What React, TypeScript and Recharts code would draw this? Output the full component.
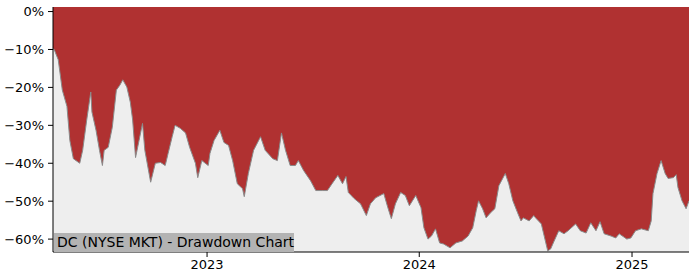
import React from 'react';
import { AreaChart, Area, XAxis, YAxis, CartesianGrid } from 'recharts';

const dates: string[] = [
  '2022-04-11','2022-04-13','2022-04-20','2022-04-27','2022-05-05','2022-05-10','2022-05-16','2022-05-27','2022-06-01','2022-06-08',
  '2022-06-15','2022-06-17','2022-06-24','2022-06-30','2022-07-05','2022-07-08','2022-07-15','2022-07-22','2022-07-29','2022-08-04',
  '2022-08-09','2022-08-16','2022-08-22','2022-08-26','2022-08-31','2022-09-06','2022-09-12','2022-09-16','2022-09-26','2022-10-04',
  '2022-10-13','2022-10-21','2022-10-26','2022-11-02','2022-11-07','2022-11-16','2022-11-25','2022-12-02','2022-12-12','2022-12-16',
  '2022-12-23','2023-01-03','2023-01-06','2023-01-13','2023-01-23','2023-01-30','2023-02-07','2023-02-14','2023-02-22','2023-03-03',
  '2023-03-06','2023-03-13','2023-03-22','2023-04-03','2023-04-11','2023-04-24','2023-05-02','2023-05-09','2023-05-16','2023-05-24',
  '2023-06-02','2023-06-07','2023-06-16','2023-06-28','2023-07-07','2023-07-19','2023-07-27','2023-08-04','2023-08-14','2023-08-22',
  '2023-08-28','2023-09-01','2023-09-11','2023-09-22','2023-10-02','2023-10-09','2023-10-18','2023-11-01','2023-11-08','2023-11-14',
  '2023-11-21','2023-11-30','2023-12-08','2023-12-15','2023-12-26','2024-01-04','2024-01-09','2024-01-16','2024-01-22','2024-01-29',
  '2024-02-05','2024-02-12','2024-02-23','2024-03-04','2024-03-15','2024-03-25','2024-04-02','2024-04-08','2024-04-12','2024-04-19',
  '2024-04-25','2024-05-03','2024-05-10','2024-05-17','2024-05-28','2024-06-03','2024-06-10','2024-06-18','2024-06-24','2024-06-28',
  '2024-07-08','2024-07-16','2024-07-19','2024-07-29','2024-08-02','2024-08-09','2024-08-14','2024-08-20','2024-08-28','2024-09-06',
  '2024-09-13','2024-09-26','2024-10-04','2024-10-14','2024-10-22','2024-10-31','2024-11-07','2024-11-14','2024-11-26','2024-12-04',
  '2024-12-10','2024-12-23','2024-12-30','2025-01-07','2025-01-17','2025-01-29','2025-02-03','2025-02-06','2025-02-13','2025-02-20',
  '2025-02-27','2025-03-04','2025-03-13','2025-03-18','2025-03-21','2025-03-28','2025-04-04','2025-04-09'
];

const drawdown: number[] = [
  -9.8, -10, -12.7, -20.7, -25, -34, -38.8, -40, -36.6, -28.6,
  -21.2, -26.5, -31.3, -36.6, -40.6, -36.6, -35.8, -30.5, -20.7, -19.4,
  -18, -19.9, -23.9, -28.6, -38.5, -34, -29.5, -36.6, -45, -40,
  -39.8, -40.6, -37.4, -33, -30, -30.8, -32, -35.8, -40, -43.8,
  -39.3, -40.6, -37.4, -34, -31.3, -34.5, -35.3, -39.3, -45.4, -46.7,
  -48.8, -42.7, -36.6, -33, -36.6, -38.8, -39.3, -32, -36.6, -40.6,
  -40.6, -39.3, -41.9, -44.6, -47.2, -47.2, -47.2, -45.4, -43.2, -45.4,
  -43.5, -47.7, -49.3, -50.7, -53.8, -50.7, -49.1, -48, -51.7, -54.6,
  -50.7, -47.7, -48.5, -51.2, -48.5, -51.7, -57, -60, -59.2, -57.3,
  -61, -61.3, -62.3, -61, -60.5, -59.2, -57, -52.5, -49.9, -52,
  -54.4, -53, -52, -45.9, -42.7, -45.4, -49.9, -53, -55.2, -54.4,
  -55.2, -53.8, -54.4, -56, -58.6, -63.1, -62.6, -60.5, -57.8, -58.6,
  -57.8, -56, -57.8, -58.4, -55.7, -57.8, -55.4, -58.6, -59.2, -59.7,
  -58.6, -60, -59.7, -57.8, -57.3, -57.8, -55.2, -48, -42.7, -39.3,
  -42.7, -44, -43.8, -43, -46.4, -49.9, -52, -49.9
];

const yearTicks: string[] = ['2023-01-01', '2024-01-01', '2025-01-01'];
const yTicks: number[] = [0, -10, -20, -30, -40, -50, -60];
const title = 'DC (NYSE MKT) - Drawdown Chart';

const ts = (d: string) => Date.parse(d + 'T00:00:00Z');
const data = dates.map((d, i) => ({ t: ts(d), dd: drawdown[i] }));
const xDomain: [number, number] = [ts('2022-04-11'), ts('2025-04-09')];
const yDomain: [number, number] = [-63.4, 1.2];

const fmtY = (v: number) => (v === 0 ? '0%' : '\u2212' + Math.abs(v) + '%');
const fmtX = (v: number) => String(new Date(v).getUTCFullYear());

const font = '"DejaVu Sans", sans-serif';
const tickStyle = { fontSize: 13, fill: '#000', fontFamily: font };

export default function App() {
  return (
    <div style={{ position: 'absolute', left: 0, top: 0, width: 700, height: 280, background: '#fff' }}>
      <AreaChart width={700} height={280} data={data} margin={{ top: 7, right: 11, bottom: 0, left: 0 }}>
        <CartesianGrid horizontal={false} vertical={false} fill="#b03131" fillOpacity={1} />
        <XAxis
          dataKey="t"
          type="number"
          scale="time"
          domain={xDomain}
          allowDataOverflow
          ticks={yearTicks.map(ts)}
          tickFormatter={fmtX}
          height={28}
          tick={tickStyle}
          tickSize={5}
          tickMargin={3}
          axisLine={{ stroke: '#000', strokeWidth: 1 }}
          tickLine={{ stroke: '#000' }}
        />
        <XAxis
          xAxisId="top"
          dataKey="t"
          type="number"
          orientation="top"
          domain={xDomain}
          allowDataOverflow
          height={0}
          tick={false}
          tickLine={false}
          axisLine={{ stroke: '#000', strokeWidth: 1 }}
        />
        <YAxis
          type="number"
          domain={yDomain}
          allowDataOverflow
          ticks={yTicks}
          tickFormatter={fmtY}
          width={53}
          tick={tickStyle}
          tickSize={5}
          tickMargin={4}
          axisLine={{ stroke: '#000', strokeWidth: 1 }}
          tickLine={{ stroke: '#000' }}
        />
        <YAxis
          yAxisId="right"
          orientation="right"
          type="number"
          domain={yDomain}
          allowDataOverflow
          width={0}
          tick={false}
          tickLine={false}
          axisLine={{ stroke: '#000', strokeWidth: 1 }}
        />
        <Area
          type="linear"
          dataKey="dd"
          baseValue={yDomain[0]}
          fill="#eeeeee"
          fillOpacity={1}
          stroke="#8a8a8a"
          strokeWidth={1}
          isAnimationActive={false}
          dot={false}
          activeDot={false}
        />
      </AreaChart>
      <div
        style={{
          position: 'absolute',
          left: 54,
          top: 233,
          width: 240,
          height: 19,
          background: '#b3b3b3',
          fontFamily: font,
          fontSize: 14,
          lineHeight: '19px',
          paddingLeft: 3,
          boxSizing: 'border-box',
          color: '#000',
          whiteSpace: 'nowrap',
        }}
      >
        {title}
      </div>
    </div>
  );
}
